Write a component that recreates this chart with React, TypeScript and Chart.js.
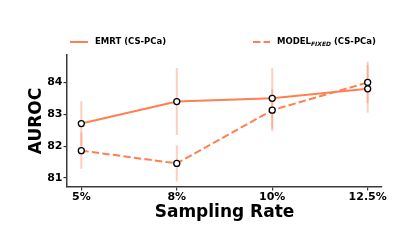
import React, { useEffect, useRef } from "react";
import { Chart, registerables } from "chart.js";

Chart.register(...registerables);

const categories = ["5%", "8%", "10%", "12.5%"];
const emrtValues = [82.71, 83.4, 83.5, 83.8];
const emrtErrors = [0.7, 1.05, 0.95, 0.75];
const fixedValues = [81.86, 81.46, 83.13, 84.0];
const fixedErrors = [0.57, 0.57, 0.66, 0.65];
const yTicks = [81, 82, 83, 84];
const yMin = 80.72;
const yMax = 84.86;

const LINE = "rgb(255,127,80)";
const ERR = "rgba(255,127,80,0.38)";
const AXIS = "#3a3a3a";
const FONT = "'DejaVu Sans'";

const errorBarPlugin = {
  id: "errorBars",
  beforeDatasetsDraw(chart: any) {
    const { ctx, scales } = chart;
    const x = scales.x;
    const y = scales.y;
    const sets = [
      { v: emrtValues, e: emrtErrors },
      { v: fixedValues, e: fixedErrors },
    ];
    ctx.save();
    ctx.strokeStyle = ERR;
    ctx.lineWidth = 2;
    ctx.lineCap = "butt";
    sets.forEach((s) => {
      s.v.forEach((val, i) => {
        const px = x.getPixelForValue(i);
        ctx.beginPath();
        ctx.moveTo(px, y.getPixelForValue(val - s.e[i]));
        ctx.lineTo(px, y.getPixelForValue(val + s.e[i]));
        ctx.stroke();
      });
    });
    ctx.restore();
  },
};

const legendPlugin = {
  id: "customLegend",
  afterDraw(chart: any) {
    const { ctx } = chart;
    const yc = 42;
    ctx.save();
    ctx.strokeStyle = LINE;
    ctx.lineWidth = 2;
    ctx.beginPath();
    ctx.moveTo(70, yc);
    ctx.lineTo(88, yc);
    ctx.stroke();
    ctx.setLineDash([7.4, 3.2]);
    ctx.beginPath();
    ctx.moveTo(253, yc);
    ctx.lineTo(270, yc);
    ctx.stroke();
    ctx.setLineDash([]);
    ctx.fillStyle = "#000";
    ctx.textBaseline = "middle";
    ctx.textAlign = "left";
    ctx.font = `bold 8.5px ${FONT}`;
    ctx.fillText("EMRT (CS-PCa)", 95, yc);
    let xx = 277;
    ctx.fillText("MODEL", xx, yc);
    xx += ctx.measureText("MODEL").width;
    ctx.font = `italic bold 6px ${FONT}`;
    ctx.fillText("FIXED", xx, yc + 2.5);
    xx += ctx.measureText("FIXED").width;
    ctx.font = `bold 8.5px ${FONT}`;
    ctx.fillText(" (CS-PCa)", xx, yc);
    ctx.restore();
  },
};

export default function App() {
  const ref = useRef<HTMLCanvasElement | null>(null);
  useEffect(() => {
    if (!ref.current) return;
    const chart = new Chart(ref.current, {
      type: "line",
      data: {
        datasets: [
          {
            label: "EMRT (CS-PCa)",
            data: emrtValues.map((v, i) => ({ x: i, y: v })),
            borderColor: LINE,
            borderWidth: 2,
            pointRadius: 3,
            pointBorderWidth: 1.3,
            pointBackgroundColor: "#fff",
            pointBorderColor: "#000",
            tension: 0,
          },
          {
            label: "MODEL_FIXED (CS-PCa)",
            data: fixedValues.map((v, i) => ({ x: i, y: v })),
            borderColor: LINE,
            borderWidth: 2,
            borderDash: [7.4, 3.2],
            pointRadius: 3,
            pointBorderWidth: 1.3,
            pointBackgroundColor: "#fff",
            pointBorderColor: "#000",
            tension: 0,
          },
        ],
      },
      options: {
        responsive: false,
        animation: false,
        layout: { padding: { top: 55, right: 33, left: 0, bottom: 0 } },
        plugins: { legend: { display: false }, tooltip: { enabled: false } },
        scales: {
          x: {
            type: "linear",
            min: -0.15,
            max: 3.15,
            afterFit: (s: any) => {
              s.height = 62;
            },
            afterBuildTicks: (s: any) => {
              s.ticks = categories.map((_, i) => ({ value: i }));
            },
            ticks: {
              callback: (v: any) => categories[v] ?? "",
              color: "#000",
              font: { family: FONT, size: 11, weight: "bold" },
              padding: 0,
              maxRotation: 0,
              autoSkip: false,
            },
            grid: {
              drawOnChartArea: false,
              drawTicks: true,
              tickLength: 3.5,
              color: AXIS,
              lineWidth: 1.2,
            },
            border: { display: true, color: AXIS, width: 1.5 },
            title: {
              display: true,
              text: "Sampling Rate",
              color: "#000",
              font: { family: FONT, size: 17, weight: "bold" },
              padding: { top: 0, bottom: 26 },
            },
          },
          y: {
            type: "linear",
            min: yMin,
            max: yMax,
            afterFit: (s: any) => {
              s.width = 67;
            },
            afterBuildTicks: (s: any) => {
              s.ticks = yTicks.map((v) => ({ value: v }));
            },
            ticks: {
              callback: (v: any) => String(v),
              color: "#000",
              font: { family: FONT, size: 11, weight: "bold" },
              padding: 1,
            },
            grid: {
              drawOnChartArea: false,
              drawTicks: true,
              tickLength: 3.5,
              color: AXIS,
              lineWidth: 1.2,
            },
            border: { display: true, color: AXIS, width: 1.5 },
            title: {
              display: true,
              text: "AUROC",
              color: "#000",
              font: { family: FONT, size: 17, weight: "bold" },
              padding: { top: 26, bottom: 0 },
            },
          },
        },
      },
      plugins: [errorBarPlugin, legendPlugin],
    } as any);
    return () => chart.destroy();
  }, []);
  return (
    <div style={{ position: "fixed", left: 0, top: 0, width: 415, height: 249, background: "#fff" }}>
      <canvas ref={ref} width={415} height={249} />
    </div>
  );
}
